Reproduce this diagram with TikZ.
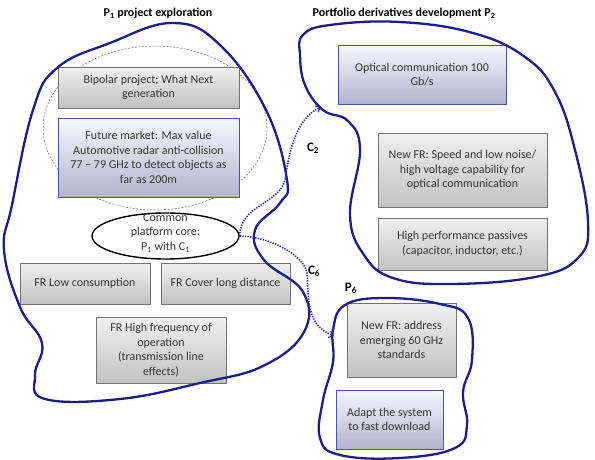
\documentclass[tikz,border=0pt]{standalone}
\usepackage{fontspec}
\setmainfont{Carlito}
\usetikzlibrary{arrows.meta,shadows,shapes.geometric}
\definecolor{navy}{RGB}{28,28,140}
\definecolor{dotblue}{RGB}{45,45,175}
\definecolor{boxtext}{RGB}{55,55,55}
\definecolor{grayedge}{RGB}{115,115,115}
\definecolor{blueedge}{RGB}{80,80,160}
\tikzset{
  boxbase/.style={rectangle, align=center, inner sep=2pt, text=boxtext,
    font=\fontsize{12}{14.5}\selectfont, line width=0.9pt,
    drop shadow={opacity=0.25, shadow xshift=1.2pt, shadow yshift=-1.2pt}},
  graybox/.style={boxbase, draw=grayedge, top color=white!94!black, bottom color=white!76!black},
  bluebox/.style={boxbase, draw=blueedge, top color=white!95!blue!60!white, bottom color=white!78!black!90!blue},
  blob/.style={draw=navy, line width=2.3pt, smooth cycle, tension=0.7},
  dotarrow/.style={draw=dotblue, line width=1.6pt, dash pattern=on 1.3pt off 1.3pt,
    -{Straight Barb[length=4pt,width=7pt,line width=1.2pt]}},
  lbl/.style={font=\bfseries\fontsize{13}{15}\selectfont, text=black, inner sep=0pt},
  title/.style={font=\bfseries\fontsize{12}{14}\selectfont, text=black, inner sep=0pt}
}
\begin{document}
\begin{tikzpicture}[x=1pt,y=-1pt]
\useasboundingbox[fill=white] (0,0) rectangle (595,460);

% dashed ellipse behind boxes
\node[draw=black!60, dash pattern=on 2pt off 1.5pt, line width=0.5pt, ellipse, minimum width=224pt, minimum height=164pt, inner sep=0pt] (dash) at (155,128) {};

% titles
\node[title] (t1) at (158,13) {P\textsubscript{1} project exploration};
\node[title] (t2) at (404,13) {Portfolio derivatives development P\textsubscript{2}};

% boxes
\node[graybox, minimum width=181pt, minimum height=41pt] (bip) at (148.5,87.5) {Bipolar project; What Next\\generation};
\node[bluebox, minimum width=181pt, minimum height=79pt] (fut) at (148.5,157.5) {Future market: Max value\\Automotive radar anti-collision\\77 – 79 GHz to detect objects as\\far as 200m};
\node[graybox, minimum width=130pt, minimum height=41pt] (low) at (85,283.5) {FR Low consumption};
\node[graybox, minimum width=129pt, minimum height=41pt] (cov) at (225.5,283.5) {FR Cover long distance};
\node[graybox, minimum width=130pt, minimum height=66pt] (hf) at (161,350) {FR High frequency of\\operation\\(transmission line\\effects)};
\node[bluebox, minimum width=168pt, minimum height=59pt] (opt) at (422,74.5) {Optical communication 100\\Gb/s};
\node[graybox, minimum width=169pt, minimum height=74pt] (spd) at (462.5,170) {New FR: Speed and low noise/\\high voltage capability for\\optical communication};
\node[graybox, minimum width=169pt, minimum height=52pt] (pas) at (462.5,244) {High performance passives\\(capacitor, inductor, etc.)};
\node[graybox, minimum width=109pt, minimum height=74pt] (adr) at (401.5,340) {New FR: address\\emerging 60 GHz\\standards};
\node[bluebox, minimum width=107pt, minimum height=59pt] (adp) at (389.5,419.5) {Adapt the system\\to fast download};

% platform ellipse
\node[draw=black, fill=white, line width=1.4pt, ellipse, minimum width=147pt, minimum height=46pt, inner sep=0pt] (plat) at (165.5,236) {};
\node[text=boxtext, align=center, font=\fontsize{12}{14.5}\selectfont, inner sep=0pt] (platt) at (165.5,233) {Common\\platform core:\\P\textsubscript{1} with C\textsubscript{1}};

% blobs
\draw[blob] plot coordinates {(57,68) (110,43) (173,23) (220,45) (266,110) (287,180) (280,203) (255,230) (264,260) (303,292) (304,332) (263,366) (200,383) (120,399) (45,399) (35,375) (42,343) (20,307) (4,250) (12,205) (33,110)};
\draw[blob] plot coordinates {(303,35) (330,25) (400,22) (473,33) (525,57) (555,92) (575,150) (588,222) (578,258) (535,277) (450,284) (393,278) (364,255) (350,215) (360,150) (348,121) (323,110) (305,85) (300,55)};
\draw[blob] plot coordinates {(345,305) (385,298) (440,304) (468,318) (472,360) (463,392) (467,425) (455,448) (400,458) (340,455) (320,438) (323,400) (333,362) (333,330)};

% dotted arrows
\coordinate (c2end) at (321,107);
\coordinate (c6end) at (334,336);
\draw[dotarrow] (plat.east) .. controls (240,205) and (278,205) .. (285,180) .. controls (290,145) and (298,118) .. (c2end);
\draw[dotarrow] (plat.east) .. controls (262,236) and (300,250) .. (307,272) .. controls (309,300) and (306,325) .. (c6end);

% labels
\node[lbl] (c2) at (313,148) {C\textsubscript{2}};
\node[lbl] (c6) at (314,271) {C\textsubscript{6}};
\node[lbl] (p6) at (351,288) {P\textsubscript{6}};
\end{tikzpicture}
\end{document}
